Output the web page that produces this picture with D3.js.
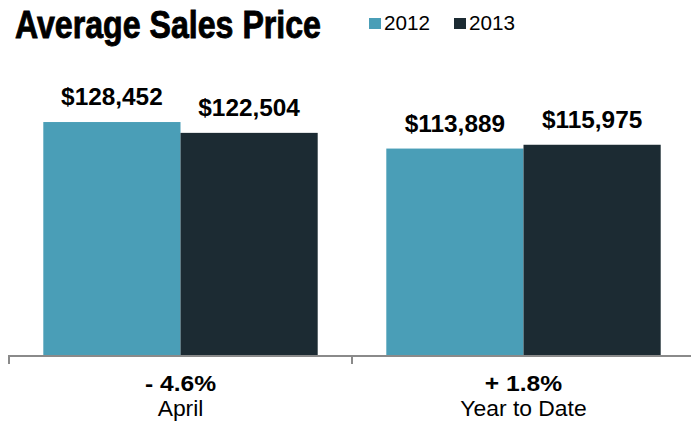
<!DOCTYPE html>
<html><head><meta charset="utf-8">
<script src="https://cdn.jsdelivr.net/npm/d3@7"></script>
<style>
html,body{margin:0;padding:0;background:#fff;}
svg{display:block;}
text{font-family:"Liberation Sans",Arial,Helvetica,sans-serif;fill:#000;}
</style></head>
<body>
<script>
const categories = ["April", "Year to Date"];
const changes = ["- 4.6%", "+ 1.8%"];
const seriesNames = ["2012", "2013"];
const values2012 = [128452, 113889];
const values2013 = [122504, 115975];
const valueLabels2012 = ["$128,452", "$113,889"];
const valueLabels2013 = ["$122,504", "$115,975"];
const title = "Average Sales Price";

const W = 691, H = 424;
const colors = ["#4a9eb7", "#1c2b33"];
const svg = d3.select("body").append("svg").attr("width", W).attr("height", H);

const x0 = d3.scaleBand().domain(categories).range([9, 695]).paddingInner(0.2).paddingOuter(0.1);
const x1 = d3.scaleBand().domain(seriesNames).range([0, x0.bandwidth()]);
const y = d3.scaleLinear().domain([0, 140000]).range([356, 101]);
const color = d3.scaleOrdinal().domain(seriesNames).range(colors);

const rows = categories.map((c, i) => ({
  cat: c, change: changes[i],
  vals: [
    {s: "2012", v: values2012[i], lab: valueLabels2012[i]},
    {s: "2013", v: values2013[i], lab: valueLabels2013[i]}
  ]
}));

const g = svg.selectAll("g.grp").data(rows).join("g")
  .attr("transform", d => `translate(${x0(d.cat)},0)`);

g.selectAll("rect").data(d => d.vals).join("rect")
  .attr("x", d => x1(d.s)).attr("width", x1.bandwidth())
  .attr("y", d => y(d.v)).attr("height", d => y(0) - y(d.v))
  .attr("fill", d => color(d.s));

g.selectAll("text.val").data(d => d.vals).join("text")
  .attr("class", "val")
  .attr("transform", d => `translate(${x1(d.s) + x1.bandwidth()/2},${y(d.v) - 17}) scale(1.06,1)`)
  .attr("text-anchor", "middle")
  .attr("font-weight", "bold").attr("font-size", 23)
  .text(d => d.lab);

// axis
const step = x0.step();
const gap = step - x0.bandwidth();
svg.append("line").attr("x1", 9).attr("x2", W).attr("y1", 356).attr("y2", 356)
  .attr("stroke", "#8a8a8a").attr("stroke-width", 2);
const tickXs = categories.map(c => x0(c) - gap/2).concat([x0(categories[categories.length-1]) + x0.bandwidth() + gap/2]);
svg.selectAll("line.tick").data(tickXs).join("line")
  .attr("class", "tick")
  .attr("x1", d => d).attr("x2", d => d).attr("y1", 355).attr("y2", 364)
  .attr("stroke", "#8a8a8a").attr("stroke-width", 2);

const cx = d => x0(d.cat) + x0.bandwidth()/2;
svg.selectAll("text.chg").data(rows).join("text")
  .attr("class", "chg")
  .attr("transform", d => `translate(${cx(d)},391) scale(1.12,1)`)
  .attr("text-anchor", "middle").attr("font-weight", "bold").attr("font-size", 22)
  .text(d => d.change);
svg.selectAll("text.cat").data(rows).join("text")
  .attr("class", "cat")
  .attr("transform", d => `translate(${cx(d)},416) scale(1.04,1)`)
  .attr("text-anchor", "middle").attr("font-size", 22)
  .text(d => d.cat);

// title
svg.append("text").attr("x", 15).attr("y", 38)
  .attr("font-family", "'Liberation Sans Narrow','DejaVu Sans Condensed','Liberation Sans',Arial,sans-serif")
  .attr("font-weight", "bold").attr("font-size", 39)
  .attr("stroke", "#000").attr("stroke-width", 0.9)
  .attr("textLength", 306).attr("lengthAdjust", "spacingAndGlyphs")
  .text(title);

// legend
const legX = [369, 454];
const leg = svg.selectAll("g.leg").data(seriesNames).join("g")
  .attr("transform", (d, i) => `translate(${legX[i]},0)`);
leg.append("rect").attr("x", 0).attr("y", 18).attr("width", 12).attr("height", 11)
  .attr("fill", d => color(d));
leg.append("text").attr("x", 15).attr("y", 30).attr("font-size", 21)
  .attr("textLength", 46).attr("lengthAdjust", "spacingAndGlyphs").text(d => d);
</script>
</body></html>
